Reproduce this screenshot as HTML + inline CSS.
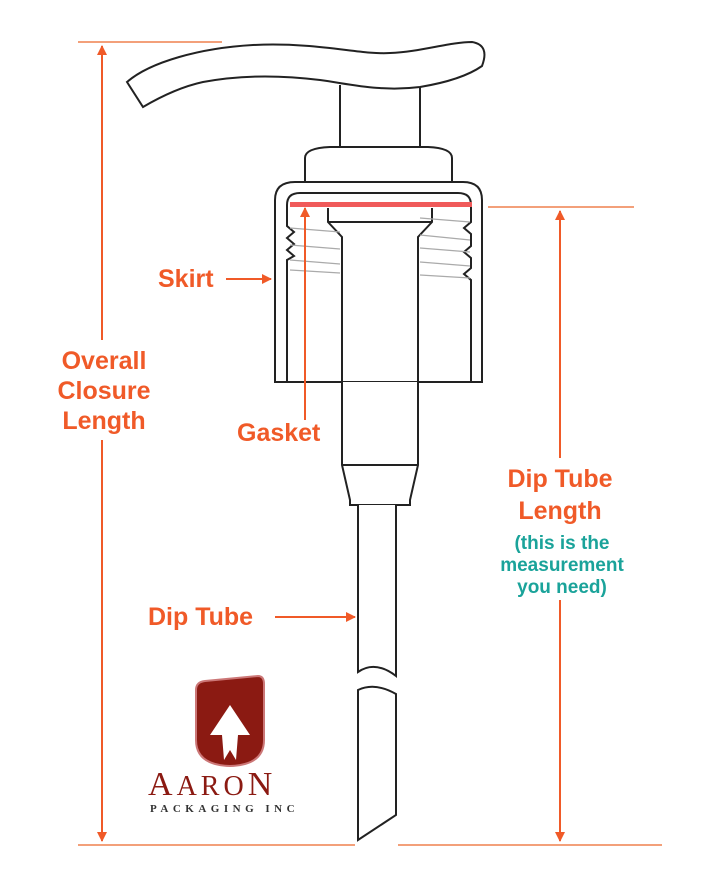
<!DOCTYPE html>
<html><head><style>body{margin:0;background:#fff}svg{display:block}</style></head><body>
<svg width="720" height="890" viewBox="0 0 720 890" xmlns="http://www.w3.org/2000/svg">
<defs>
<marker id="a" viewBox="0 0 10 10" refX="9" refY="5" markerWidth="5" markerHeight="5" orient="auto-start-reverse"><path d="M0,0L10,5L0,10z" fill="#f05a28"/></marker>
</defs>
<g stroke="#f3a07a" stroke-width="2" fill="none">
<line x1="78" y1="42" x2="222" y2="42"/>
<line x1="78" y1="845" x2="355" y2="845"/>
<line x1="398" y1="845" x2="662" y2="845"/>
<line x1="488" y1="207" x2="634" y2="207"/>
</g>
<g stroke="#222" stroke-width="2" fill="#fff">
<path d="M340,85 L340,148 M420,85 L420,148"/>
<path d="M127,82 C150,62 200,48 253,45 C320,42 360,55 390,53 C420,52 450,42 472,42 Q490,45 482,66 Q462,80 420,87 C380,92 350,84 320,80 C280,75 240,75 203,82 C180,87 160,97 143,107 Z"/>
<path d="M305,182 L305,158 Q305,148 330,147 L428,147 Q452,148 452,158 L452,182"/>
<path d="M275,382 L275,200 Q275,182 295,182 L463,182 Q482,182 482,200 L482,382 Z"/>
<path d="M287,382 L287,260 L294,256 L287,250 L294,244 L287,238 L294,232 L287,226 L287,205 Q287,193 300,193 L458,193 Q471,193 471,205 L471,222 L464,228 L471,234 L471,246 L464,252 L471,258 L471,268 L464,274 L471,280 L471,382" fill="none"/>
<path d="M328,208 L328,222 L342,237 L342,382 M432,208 L432,222 L418,237 L418,382 M328,222 L432,222" fill="none"/>
<path d="M342,382 L342,465 L350,500 L350,505 L410,505 L410,500 L418,465 L418,382 M342,465 L418,465" />
<path d="M358,505 L358,672 Q375,660 396,676 L396,505"/>
<path d="M358,690 Q375,682 396,694 L396,815 L358,840 Z"/>
</g>
<rect x="290" y="202" width="182" height="5" fill="#f05a5a"/>
<g stroke="#aaa" stroke-width="1.2">
<line x1="290" y1="228" x2="340" y2="232"/><line x1="290" y1="245" x2="340" y2="249"/>
<line x1="290" y1="260" x2="340" y2="264"/><line x1="290" y1="270" x2="340" y2="273"/>
<line x1="420" y1="218" x2="470" y2="222"/><line x1="420" y1="235" x2="470" y2="240"/>
<line x1="420" y1="248" x2="470" y2="252"/><line x1="420" y1="262" x2="470" y2="266"/>
<line x1="420" y1="275" x2="470" y2="278"/>
</g>
<g stroke="#f05a28" stroke-width="2" fill="none">
<line x1="102" y1="46" x2="102" y2="340" marker-start="url(#a)"/>
<line x1="102" y1="440" x2="102" y2="841" marker-end="url(#a)"/>
<line x1="560" y1="211" x2="560" y2="458" marker-start="url(#a)"/>
<line x1="560" y1="600" x2="560" y2="841" marker-end="url(#a)"/>
<line x1="226" y1="279" x2="271" y2="279" marker-end="url(#a)"/>
<line x1="305" y1="420" x2="305" y2="208" marker-end="url(#a)"/>
<line x1="275" y1="617" x2="355" y2="617" marker-end="url(#a)"/>
</g>
<g font-family="Liberation Sans, sans-serif" font-weight="bold" fill="#f05a28" font-size="25">
<text x="158" y="287">Skirt</text>
<text x="104" y="369" text-anchor="middle">Overall</text>
<text x="104" y="399" text-anchor="middle">Closure</text>
<text x="104" y="429" text-anchor="middle">Length</text>
<text x="237" y="441">Gasket</text>
<text x="560" y="487" text-anchor="middle">Dip Tube</text>
<text x="560" y="519" text-anchor="middle">Length</text>
<text x="148" y="625">Dip Tube</text>
</g>
<g font-family="Liberation Sans, sans-serif" font-weight="bold" fill="#1aa39a" font-size="19" text-anchor="middle">
<text x="562" y="549">(this is the</text>
<text x="562" y="571">measurement</text>
<text x="562" y="593">you need)</text>
</g>
<path d="M196,690 Q196,682 205,681 L258,676 Q264,676 264,684 L264,740 Q264,765 230,766 Q196,765 196,740 Z" fill="#8b1a12" stroke="#c77" stroke-width="2"/>
<path d="M230,705 L250,735 L238,735 L236,760 L230,750 L224,760 L222,735 L210,735 Z" fill="#fff"/>
<text x="148" y="795" font-family="Liberation Serif, serif" font-size="34" fill="#8b1a12" letter-spacing="4">A<tspan font-size="28">ARO</tspan>N</text>
<text x="150" y="812" font-family="Liberation Serif, serif" font-size="11" font-weight="bold" fill="#333" letter-spacing="4.5">PACKAGING INC</text>
</svg>
</body></html>
